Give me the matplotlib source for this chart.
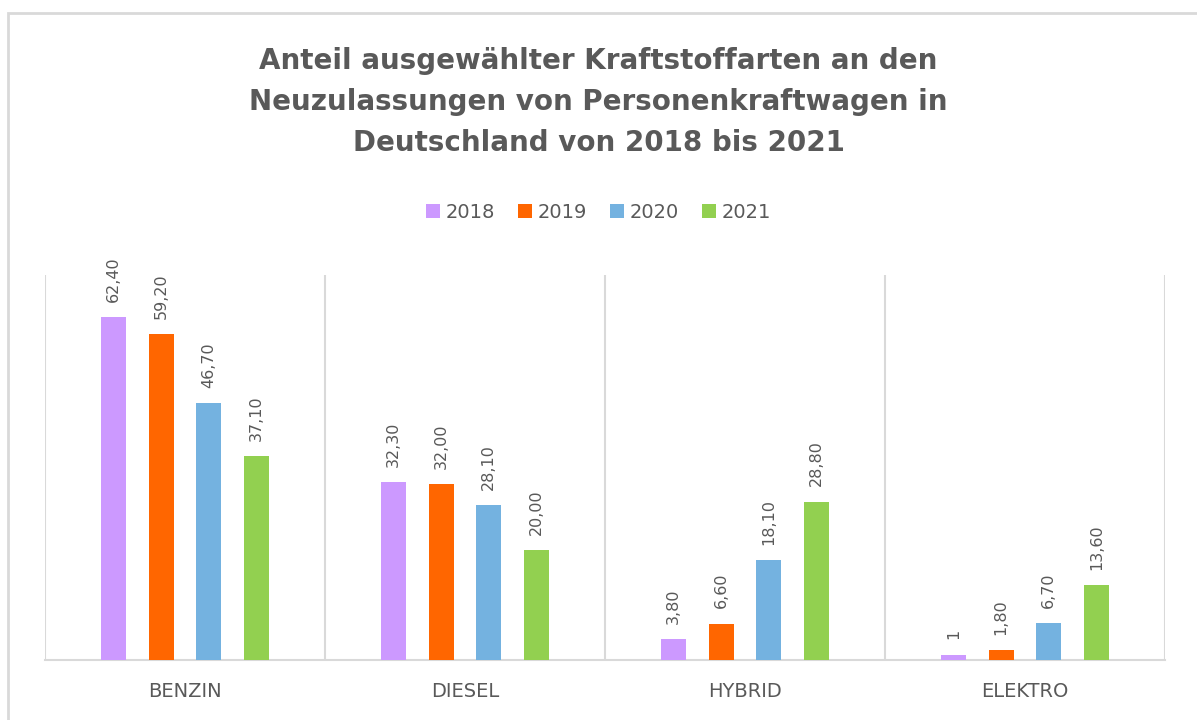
import numpy as np
import matplotlib
matplotlib.use("Agg")
import matplotlib.pyplot as plt
from matplotlib.patches import Rectangle

# Daten
kategorien = ["BENZIN", "DIESEL", "HYBRID", "ELEKTRO"]
jahre = ["2018", "2019", "2020", "2021"]
werte_2018 = [62.4, 32.3, 3.8, 1.0]
werte_2019 = [59.2, 32.0, 6.6, 1.8]
werte_2020 = [46.7, 28.1, 18.1, 6.7]
werte_2021 = [37.1, 20.0, 28.8, 13.6]
farben = ["#CC99FF", "#FF6600", "#74B2E0", "#92D050"]

grau = "#595959"
linie = "#D9D9D9"


def fmt(v):
    if v == 1:
        return "1"
    return f"{v:.2f}".replace(".", ",")


fig = plt.figure(figsize=(11.97, 7.2), dpi=100)
# aeusserer Rahmen
fig.patches.append(Rectangle((8 / 1197, -0.05), 1.1, (720 - 13) / 720 + 0.05,
                             transform=fig.transFigure, fill=False,
                             edgecolor=linie, linewidth=2))

ax = fig.add_axes([45 / 1197, 60 / 720, 1120 / 1197, 385 / 720])

x = np.arange(len(kategorien))
breite = 0.09
abstand = 0.17
alle = [werte_2018, werte_2019, werte_2020, werte_2021]
for i, (werte, farbe, jahr) in enumerate(zip(alle, farben, jahre)):
    pos = x + (i - 1.5) * abstand
    ax.bar(pos, werte, width=breite, color=farbe, label=jahr, zorder=3)
    for px, v in zip(pos, werte):
        ax.annotate(fmt(v), (px, v), xytext=(0, 11), textcoords="offset points",
                    rotation=90, ha="center", va="bottom", color=grau,
                    fontsize=11.5, zorder=4)

ax.set_xlim(-0.5, 3.5)
ax.set_ylim(0, 70)
ax.set_yticks([])
ax.set_xticks(x)
ax.set_xticklabels(kategorien, fontsize=14, color=grau)
ax.tick_params(axis="x", length=0, pad=16)
ax.set_xticks(np.arange(-0.5, 4, 1), minor=True)
ax.tick_params(axis="x", which="minor", length=0)
ax.grid(axis="x", which="minor", color=linie, linewidth=1.5, zorder=0)
for s in ["top", "left", "right"]:
    ax.spines[s].set_visible(False)
ax.spines["bottom"].set_color(linie)
ax.spines["bottom"].set_linewidth(1.5)

fig.text(0.5, 1 - 102 / 720,
         "Anteil ausgewählter Kraftstoffarten an den\n"
         "Neuzulassungen von Personenkraftwagen in\n"
         "Deutschland von 2018 bis 2021",
         ha="center", va="center", fontsize=20, fontweight="bold",
         color=grau, linespacing=1.6)

fig.legend(loc="center", bbox_to_anchor=(0.5, 1 - 212 / 720), ncol=4,
           frameon=False, fontsize=14, labelcolor=grau, handlelength=0.7,
           handleheight=0.7, handletextpad=0.3, columnspacing=1.2)

fig.savefig("out.png", dpi=100)
